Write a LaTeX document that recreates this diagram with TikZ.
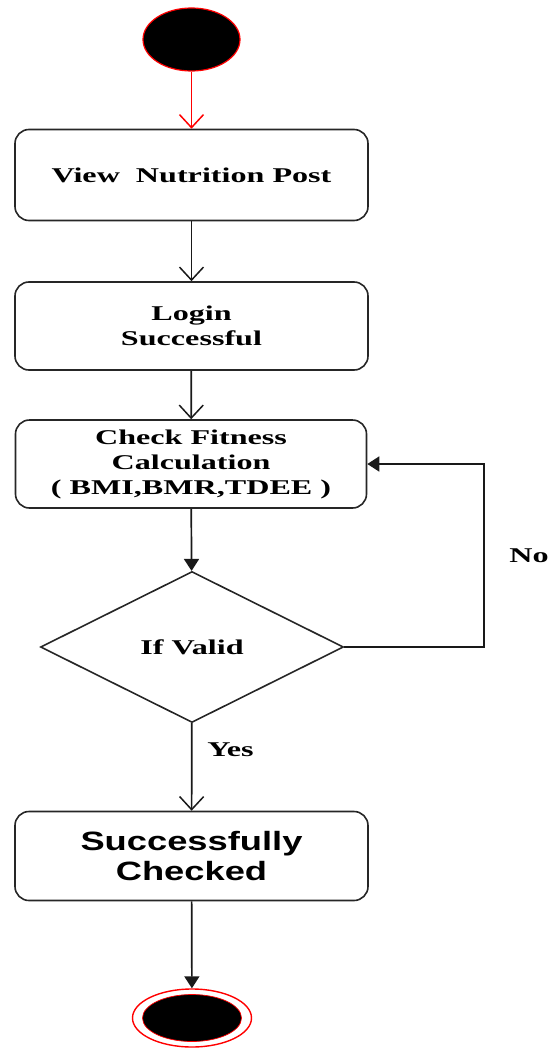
\documentclass[tikz,border=0pt]{standalone}
\usepackage{fontspec}
\usetikzlibrary{arrows.meta,shapes.geometric}
\newfontfamily\flowserif{Liberation Serif}[FakeStretch=1.53]
\newfontfamily\flowsans{Liberation Sans}[FakeStretch=1.37]
\tikzset{
  activity/.style={draw=black!85, line width=1.6pt, rounded corners=14pt,
    minimum width=353pt, minimum height=89pt, inner sep=0pt, align=center,
    font=\flowserif\bfseries\fontsize{21}{25}\selectfont},
  decision/.style={draw=black!85, line width=1.6pt, diamond, aspect=2,
    minimum width=303pt, minimum height=151pt, inner sep=0pt,
    font=\flowserif\bfseries\fontsize{21}{25}\selectfont},
  guard/.style={font=\flowserif\bfseries\fontsize{21}{25}\selectfont},
  flow/.style={line width=1.7pt, black!90},
  openhead/.style={-{Straight Barb[length=13pt,width=24pt,line width=1.5pt]}},
  solidhead/.style={-{Triangle[length=12pt,width=15pt]}},
}
\begin{document}
\begin{tikzpicture}[x=1pt,y=-1pt]
\useasboundingbox (0,0) rectangle (554,1049);

% initial node
\node[ellipse, draw=red, fill=black, line width=1.2pt, minimum width=97pt,
      minimum height=63pt, inner sep=0pt] (start) at (191.5,39.5) {};

% activities
\node[activity, minimum height=91pt] (view) at (191.5,175) {View\ \ Nutrition Post};
\node[activity, minimum height=88pt] (login) at (191.5,326) {Login\\Successful};
\node[activity, minimum width=351pt, minimum height=88pt] (calc) at (191,464)
  {Check Fitness\\Calculation\\( BMI,BMR,TDEE )};
\node[decision] (valid) at (192,647) {If Valid};
\node[activity, minimum height=89pt, font=\flowsans\bfseries\fontsize{26.5}{30}\selectfont]
  (done) at (191.5,856) {Successfully\\Checked};

% final node
\node[ellipse, draw=red, fill=white, line width=1.4pt, minimum width=119pt,
      minimum height=58pt, inner sep=0pt] (finish) at (192,1018) {};
\node[ellipse, draw=red, fill=black, line width=0.7pt, minimum width=99pt,
      minimum height=47pt, inner sep=0pt] (finishdot) at (192,1018) {};

% control flow
\draw[flow, red, openhead] (start) -- (view);
\draw[flow, openhead] (view) -- (login);
\draw[flow, openhead] (login) -- (calc);
\draw[flow, solidhead] (calc) -- (valid);
\draw[flow, openhead] (valid) -- (done);
\draw[flow, solidhead] (done) -- (finish);

\coordinate (retry) at (484,464);
\draw[flow, solidhead] (valid.east) -| (retry) -- (calc.east);

% guards
\node[guard] (yes) at (230.5,750) {Yes};
\node[guard] (no) at (529,556) {No};
\end{tikzpicture}
\end{document}
